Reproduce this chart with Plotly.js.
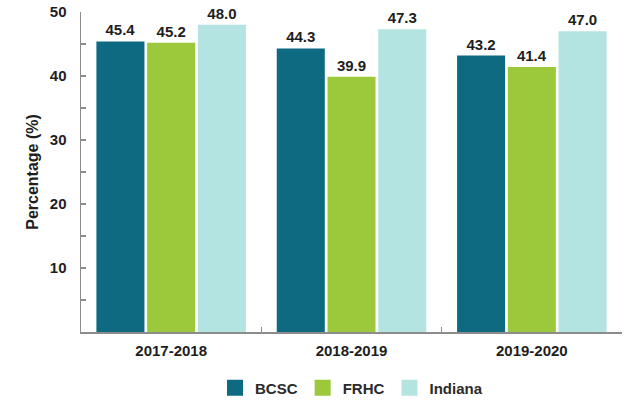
<!DOCTYPE html>
<html>
<head>
<meta charset="utf-8">
<script src="https://cdn.plot.ly/plotly-3.0.1.min.js"></script>
<style>html,body{margin:0;padding:0;background:#fff;}#chart{width:627px;height:401px;}</style>
</head>
<body>
<div id="chart"></div>
<script>
const categories = ['2017-2018', '2018-2019', '2019-2020'];
const seriesNames = ['BCSC', 'FRHC', 'Indiana'];
const bcsc = [45.4, 44.3, 43.2];
const frhc = [45.2, 39.9, 41.4];
const indiana = [48.0, 47.3, 47.0];
const colors = ['#0d6a81', '#9cc93c', '#b4e4e1'];
const yTickVals = [10, 20, 30, 40, 50];

const FONT = 'Liberation Sans, Arial, sans-serif';
const TXT = '#1e1e1e';
const values = [bcsc, frhc, indiana];
const barTraces = values.map((v, i) => ({
  type: 'bar',
  name: seriesNames[i],
  x: categories,
  y: v,
  marker: {color: colors[i]},
  text: v.map(n => '<b>' + n.toFixed(1) + '</b>'),
  textposition: 'outside',
  textfont: {family: FONT, size: 15, color: TXT},
  constraintext: 'none',
  cliponaxis: false,
  showlegend: false,
  hoverinfo: 'none'
}));
// legend-only entries (no data points) so the legend swatches can be larger squares
const legendTraces = seriesNames.map((n, i) => ({
  type: 'scatter',
  mode: 'markers',
  name: n,
  x: [null],
  y: [null],
  marker: {symbol: 'square', size: 16, color: colors[i]},
  showlegend: true,
  hoverinfo: 'none'
}));

const layout = {
  width: 627, height: 401,
  margin: {l: 81, r: 5, t: 12, b: 69, autoexpand: false},
  paper_bgcolor: '#fff', plot_bgcolor: '#fff',
  barmode: 'group',
  bargap: 0.156,
  bargroupgap: 0.053,
  font: {family: FONT, color: TXT},
  xaxis: {
    type: 'category',
    showline: true, linecolor: '#8c8c8c', linewidth: 1.5,
    ticks: 'inside', tickson: 'boundaries', ticklen: 5, tickcolor: '#8c8c8c', tickwidth: 1.5,
    tickfont: {family: FONT, size: 15, color: TXT, weight: 'bold'},
    showgrid: false, zeroline: false,
    ticklabelstandoff: 4
  },
  yaxis: {
    range: [0, 50],
    tickvals: yTickVals,
    showline: true, linecolor: '#8c8c8c', linewidth: 1.5,
    ticks: 'inside', ticklen: 5, tickcolor: '#8c8c8c', tickwidth: 1.5,
    minor: {dtick: 5, ticks: 'inside', ticklen: 5, tickcolor: '#8c8c8c', tickwidth: 1.5, showgrid: false},
    tickfont: {family: FONT, size: 15, color: TXT, weight: 'bold'},
    ticklabelstandoff: 10,
    showgrid: false, zeroline: false,
    title: {text: '<b>Percentage (%)</b>', font: {family: FONT, size: 16, color: TXT}, standoff: 7}
  },
  showlegend: true,
  legend: {
    orientation: 'h', x: 0.5, xanchor: 'center', y: -0.175, yanchor: 'middle',
    font: {family: FONT, size: 15, color: '#2a2a2a', weight: 'bold'},
    itemsizing: 'trace', itemwidth: 30, traceorder: 'normal'
  }
};

Plotly.newPlot('chart', barTraces.concat(legendTraces), layout, {displayModeBar: false, staticPlot: true});
</script>
</body>
</html>
